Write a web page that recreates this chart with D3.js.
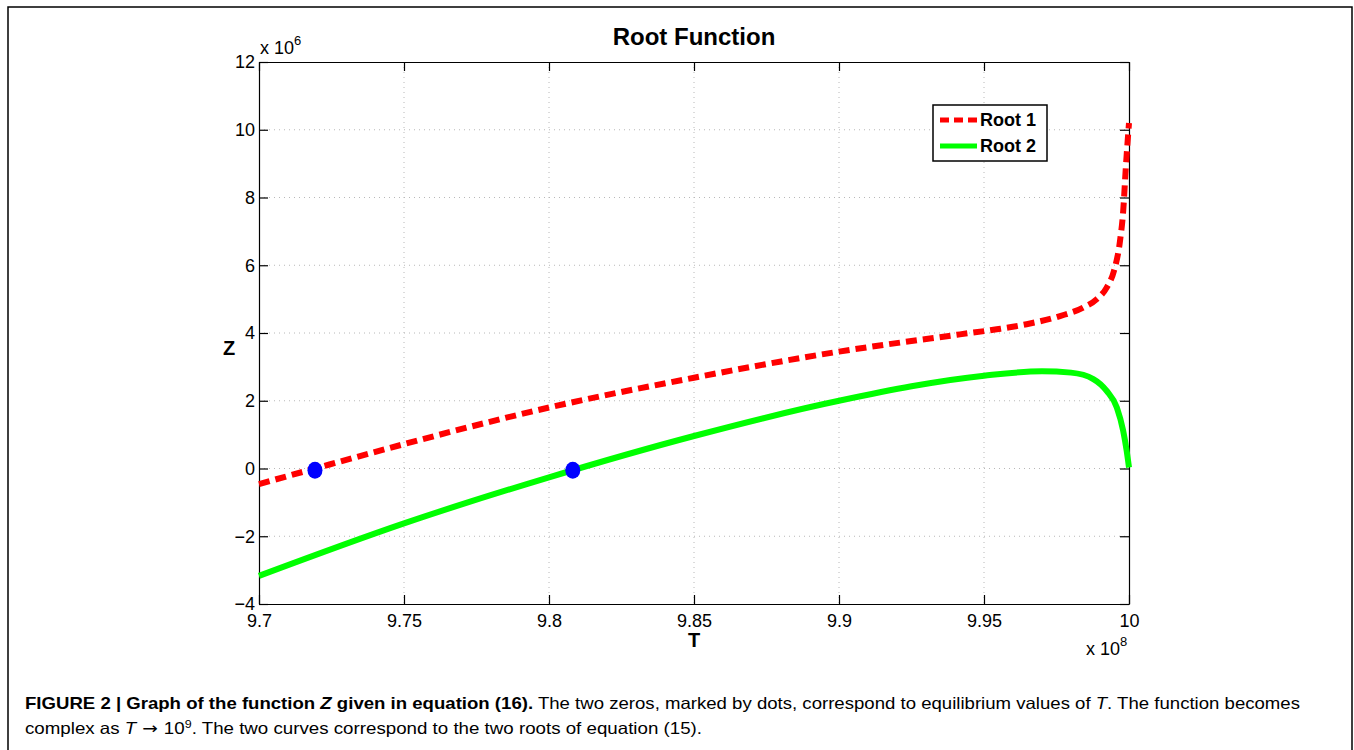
<!DOCTYPE html>
<html>
  <head>
    <meta http-equiv="Content-Type" content="text/html;charset=utf-8"/>
    <script type="text/javascript" src="https://cdn.jsdelivr.net/npm/d3@7/dist/d3.min.js"></script>
    <style type="text/css">
      body { margin: 0; background: #fff; }
      text { font-family: "Liberation Sans", Arial, Helvetica, sans-serif; fill: #000; }
      .grid line { stroke: #b8b8b8; stroke-width: 1; stroke-dasharray: 1,4; }
      .axis path, .axis line { stroke: #000; stroke-width: 1.2; }
      .axis text { font-size: 18px; }
    </style>
  </head>
  <body>
    <svg id="con" width="1354" height="750"></svg>
    <script type="text/javascript">

    // T in units of 1e8, Z in units of 1e6
    var root1T = [9.70, 9.7193, 9.75, 9.80, 9.85, 9.90, 9.9417, 9.9544, 9.9647, 9.9762,
                  9.9842, 9.9889, 9.9923, 9.9948, 9.9969, 9.9980, 9.9989, 10.0];
    var root1Z = [-0.46, 0.0, 0.72, 1.80, 2.68, 3.45, 3.96, 4.11, 4.26, 4.50,
                  4.75, 5.00, 5.34, 5.83, 6.72, 7.60, 8.88, 10.2];
    var root2T = [9.70, 9.75, 9.80, 9.85, 9.90, 9.95, 9.97, 9.98,
                  9.9877, 9.9923, 9.9958, 9.9980, 9.9992, 10.0];
    var root2Z = [-3.17, -1.62, -0.26, 0.96, 2.00, 2.74, 2.87, 2.83,
                  2.64, 2.29, 1.80, 1.11, 0.52, 0.03];
    var zeroT = [9.7193, 9.8082];
    var zeroZ = [-0.05, -0.05];
    var xTicks = [9.7, 9.75, 9.8, 9.85, 9.9, 9.95, 10];
    var yTicks = [-4, -2, 0, 2, 4, 6, 8, 10, 12];
    var seriesNames = ["Root 1", "Root 2"];

    var plotL = 259, plotR = 1129, plotT = 62, plotB = 604;
    var w = plotR - plotL, h = plotB - plotT;

    var svg = d3.select("#con");

    // outer frame of the figure
    svg.append("path")
        .attr("d", "M8,750 L8,7 L1352,7 L1352,750")
        .attr("fill", "none").attr("stroke", "#000").attr("stroke-width", 1.5);

    var x = d3.scaleLinear().domain([9.7, 10]).range([0, w]);
    var y = d3.scaleLinear().domain([-4, 12]).range([h, 0]);

    var g = svg.append("g").attr("transform", "translate(" + plotL + "," + plotT + ")");

    // grid
    var grid = g.append("g").attr("class", "grid");
    grid.selectAll(".gx").data(xTicks.slice(1, -1)).enter().append("line")
        .attr("x1", function(d) { return x(d); }).attr("x2", function(d) { return x(d); })
        .attr("y1", 0).attr("y2", h);
    grid.selectAll(".gy").data(yTicks.slice(1, -1)).enter().append("line")
        .attr("y1", function(d) { return y(d); }).attr("y2", function(d) { return y(d); })
        .attr("x1", 0).attr("x2", w);

    var fmt = function(d) { return String(+d.toFixed(2)).replace("-", "\u2212"); };

    g.append("g").attr("class", "axis").attr("transform", "translate(0," + h + ")")
        .call(d3.axisBottom(x).tickValues(xTicks).tickSizeInner(-9).tickSizeOuter(0).tickPadding(10).tickFormat(fmt));
    g.append("g").attr("class", "axis")
        .call(d3.axisTop(x).tickValues(xTicks).tickSizeInner(-9).tickSizeOuter(0).tickFormat(""));
    g.append("g").attr("class", "axis")
        .call(d3.axisLeft(y).tickValues(yTicks).tickSizeInner(-9).tickSizeOuter(0).tickPadding(4).tickFormat(fmt));
    g.append("g").attr("class", "axis").attr("transform", "translate(" + w + ",0)")
        .call(d3.axisRight(y).tickValues(yTicks).tickSizeInner(-9).tickSizeOuter(0).tickFormat(""));
    g.selectAll(".axis .tick text").attr("fill", "#000");

    // curves
    var line = d3.line()
        .x(function(d) { return x(d[0]); })
        .y(function(d) { return y(d[1]); })
        .curve(d3.curveMonotoneX);

    g.append("path")
        .datum(d3.zip(root2T, root2Z))
        .attr("d", line)
        .attr("fill", "none").attr("stroke", "#00ff00").attr("stroke-width", 6);
    g.append("path")
        .datum(d3.zip(root1T, root1Z))
        .attr("d", line)
        .attr("fill", "none").attr("stroke", "#ff0000").attr("stroke-width", 6)
        .attr("stroke-dasharray", "11,6");

    g.selectAll(".zero").data(d3.zip(zeroT, zeroZ)).enter().append("ellipse")
        .attr("cx", function(d) { return x(d[0]); })
        .attr("cy", function(d) { return y(d[1]); })
        .attr("rx", 7.5).attr("ry", 8.5)
        .attr("fill", "#0000ff");

    // exponents
    var e6 = svg.append("text").attr("x", 260).attr("y", 54).style("font-size", "18px");
    e6.append("tspan").text("x 10");
    e6.append("tspan").attr("dy", -9).style("font-size", "13px").text("6");
    var e8 = svg.append("text").attr("x", 1086).attr("y", 655).style("font-size", "18px");
    e8.append("tspan").text("x 10");
    e8.append("tspan").attr("dy", -9).style("font-size", "13px").text("8");

    // titles
    svg.append("text").attr("x", plotL + w / 2).attr("y", 45)
        .attr("text-anchor", "middle").style("font-size", "24px").style("font-weight", "bold")
        .text("Root Function");
    svg.append("text").attr("x", plotL + w / 2).attr("y", 647)
        .attr("text-anchor", "middle").style("font-size", "20px").style("font-weight", "bold")
        .text("T");
    svg.append("text").attr("x", 229).attr("y", 355)
        .attr("text-anchor", "middle").style("font-size", "20px").style("font-weight", "bold")
        .text("Z");

    // legend
    var lg = svg.append("g").attr("transform", "translate(933,105)");
    lg.append("rect").attr("width", 114).attr("height", 56)
        .attr("fill", "#fff").attr("stroke", "#000").attr("stroke-width", 1.5);
    var colors = ["#ff0000", "#00ff00"];
    var dashes = ["9,5", null];
    seriesNames.forEach(function(name, i) {
        var yy = 15 + i * 26;
        lg.append("line").attr("x1", 7).attr("x2", 44).attr("y1", yy).attr("y2", yy)
            .attr("stroke", colors[i]).attr("stroke-width", 5)
            .attr("stroke-dasharray", dashes[i]);
        lg.append("text").attr("x", 47).attr("y", yy + 6)
            .style("font-size", "18px").style("font-weight", "bold").text(name);
    });

    // caption
    var c1 = svg.append("text").attr("x", 25).attr("y", 709).style("font-size", "16.5px")
        .attr("textLength", 1275).attr("lengthAdjust", "spacingAndGlyphs");
    c1.append("tspan").style("font-weight", "bold").text("FIGURE 2 | Graph of the function ");
    c1.append("tspan").style("font-weight", "bold").style("font-style", "italic").text("Z");
    c1.append("tspan").style("font-weight", "bold").text(" given in equation (16).");
    c1.append("tspan").text(" The two zeros, marked by dots, correspond to equilibrium values of ");
    c1.append("tspan").style("font-style", "italic").text("T");
    c1.append("tspan").text(". The function becomes");

    var c2 = svg.append("text").attr("x", 25).attr("y", 734).style("font-size", "16.5px")
        .attr("textLength", 677).attr("lengthAdjust", "spacingAndGlyphs");
    c2.append("tspan").text("complex as ");
    c2.append("tspan").style("font-style", "italic").text("T");
    c2.append("tspan").style("font-family", "DejaVu Sans").text(" \u2192 ");
    c2.append("tspan").text("10");
    c2.append("tspan").attr("dy", -6).style("font-size", "11px").text("9");
    c2.append("tspan").attr("dy", 6).text(". The two curves correspond to the two roots of equation (15).");

    </script>
  </body>
</html>
